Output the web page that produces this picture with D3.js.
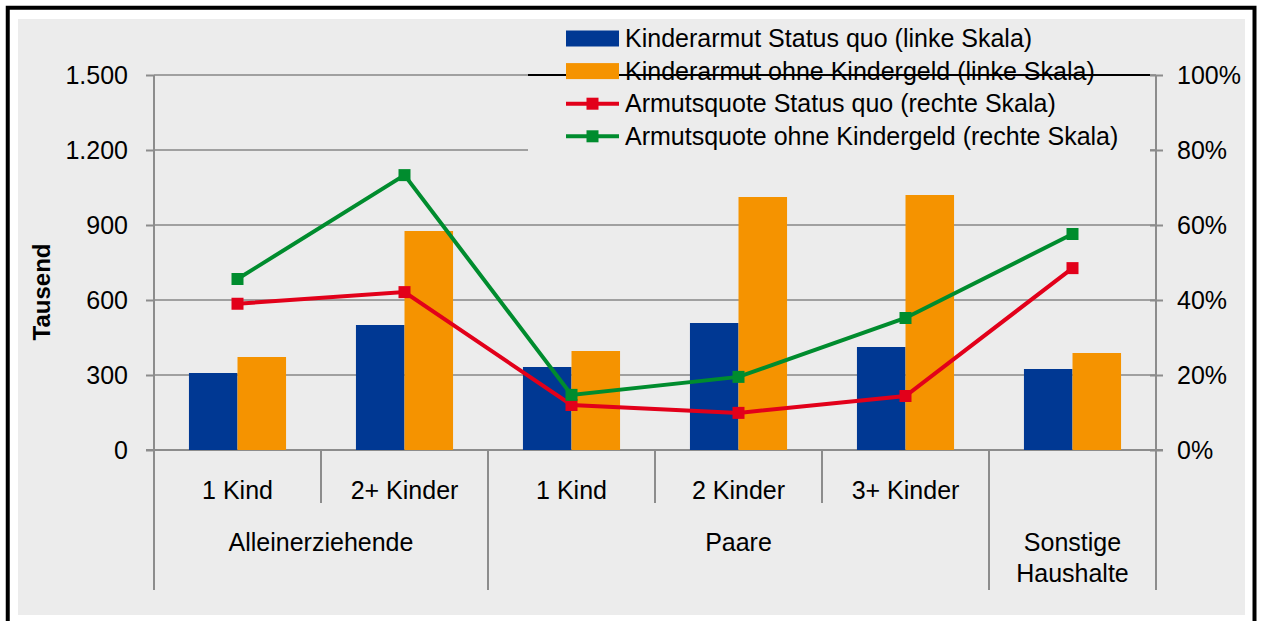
<!DOCTYPE html>
<meta charset="utf-8">
<style>
  body { margin: 0; background: #fff; }
  text { font-family: "Liberation Sans", Arial, sans-serif; fill: #000; }
  .axis path { display: none; }
  .axis line { stroke: #8c8c8c; stroke-width: 2; }
  .axis text { font-size: 25px; }
</style>
<body>
<script src="https://d3js.org/d3.v7.min.js"></script>
<script>
// data
var subLabels = ["1 Kind", "2+ Kinder", "1 Kind", "2 Kinder", "3+ Kinder", ""];
var groupNames = [["Alleinerziehende"], ["Paare"], ["Sonstige", "Haushalte"]];
var groupSizes = [2, 3, 1];
var statusQuo = [308, 500, 332, 508, 412, 324];      // Tausend
var ohneKindergeld = [372, 876, 396, 1012, 1020, 388]; // Tausend
var quoteStatusQuo = [0.39, 0.421, 0.12, 0.099, 0.144, 0.485];
var quoteOhne = [0.456, 0.733, 0.147, 0.195, 0.352, 0.576];
var leftTicks = [0, 300, 600, 900, 1200, 1500];
var rightTicks = [0, 0.2, 0.4, 0.6, 0.8, 1];

var width = 1262, height = 621;
var plot = {left: 154, right: 1156, top: 75, bottom: 450};
var fs = 25;

var colors = {blue: "#003893", orange: "#f59300", red: "#e2001a", green: "#008c2e"};

var de = d3.formatLocale({decimal: ",", thousands: ".", grouping: [3], currency: ["", " €"]});

var svg = d3.select("body").append("svg")
    .attr("width", width)
    .attr("height", height);

// frame + background
svg.append("rect")
    .attr("x", 18).attr("y", 19)
    .attr("width", 1227).attr("height", 596)
    .attr("fill", "#ececec");
svg.append("rect")
    .attr("x", 7.75).attr("y", 7.75)
    .attr("width", 1246.75).attr("height", 630)
    .attr("fill", "none")
    .attr("stroke", "#000")
    .attr("stroke-width", 4);

var idx = d3.range(subLabels.length);
var x0 = d3.scaleBand().domain(idx).range([plot.left, plot.right]).padding(0);
var x1 = d3.scaleBand().domain(["sq", "ohne"]).range([0, x0.bandwidth()]).paddingInner(0).paddingOuter(0.72);
var y = d3.scaleLinear().domain([0, 1500]).range([plot.bottom, plot.top]);
var y2 = d3.scaleLinear().domain([0, 1]).range([plot.bottom, plot.top]);

// gridlines
svg.append("g").selectAll("line")
    .data(leftTicks.filter(function(d) { return d > 0; }))
  .enter().append("line")
    .attr("x1", plot.left).attr("x2", plot.right)
    .attr("y1", function(d) { return y(d); })
    .attr("y2", function(d) { return y(d); })
    .attr("stroke", "#a0a0a0")
    .attr("stroke-width", 2);

// left axis
var gl = svg.append("g")
    .attr("class", "axis")
    .attr("transform", "translate(" + plot.left + ",0)")
    .call(d3.axisLeft(y).tickValues(leftTicks).tickSize(8).tickPadding(18).tickFormat(de.format(",")));
svg.append("line")
    .attr("x1", plot.left).attr("x2", plot.left)
    .attr("y1", plot.top).attr("y2", plot.bottom)
    .attr("stroke", "#8c8c8c").attr("stroke-width", 2);

// right axis
var gr = svg.append("g")
    .attr("class", "axis")
    .attr("transform", "translate(" + plot.right + ",0)")
    .call(d3.axisRight(y2).tickValues(rightTicks).tickSize(7).tickPadding(14).tickFormat(d3.format(".0%")));
gr.selectAll(".tick line").attr("x1", -6);
svg.append("line")
    .attr("x1", plot.right).attr("x2", plot.right)
    .attr("y1", plot.top).attr("y2", plot.bottom)
    .attr("stroke", "#8c8c8c").attr("stroke-width", 2);

// y title
svg.append("text")
    .attr("transform", "translate(42,292) rotate(-90)")
    .attr("text-anchor", "middle")
    .attr("dy", "0.35em")
    .attr("font-size", 24)
    .attr("font-weight", "bold")
    .text("Tausend");

// bottom category axis
svg.append("line")
    .attr("x1", plot.left - 8).attr("x2", plot.right + 7)
    .attr("y1", plot.bottom).attr("y2", plot.bottom)
    .attr("stroke", "#8c8c8c").attr("stroke-width", 2);

var sep = svg.append("g");
var start = 0;
var groupEdges = [0];
groupSizes.forEach(function(n) { start += n; groupEdges.push(start); });
idx.concat([subLabels.length]).forEach(function(i) {
  var xPos = i < subLabels.length ? x0(i) : plot.right;
  var isGroup = groupEdges.indexOf(i) >= 0;
  sep.append("line")
      .attr("x1", xPos).attr("x2", xPos)
      .attr("y1", plot.bottom).attr("y2", isGroup ? 590 : 503)
      .attr("stroke", "#8c8c8c").attr("stroke-width", 2);
});

svg.append("g").selectAll("text")
    .data(idx)
  .enter().append("text")
    .attr("x", function(i) { return x0(i) + x0.bandwidth() / 2; })
    .attr("y", 490)
    .attr("dy", "0.35em")
    .attr("text-anchor", "middle")
    .attr("font-size", fs)
    .text(function(i) { return subLabels[i]; });

groupNames.forEach(function(lines, g) {
  var a = x0(groupEdges[g]);
  var b = groupEdges[g + 1] < subLabels.length ? x0(groupEdges[g + 1]) : plot.right;
  lines.forEach(function(t, k) {
    svg.append("text")
        .attr("x", (a + b) / 2)
        .attr("y", 542 + k * 31)
        .attr("dy", "0.35em")
        .attr("text-anchor", "middle")
        .attr("font-size", fs)
        .text(t);
  });
});

// legend background covers the gridlines
var legend = svg.append("g");
legend.append("rect")
    .attr("x", 528).attr("y", 20)
    .attr("width", 622).attr("height", 142)
    .attr("fill", "#ececec");
legend.append("line")
    .attr("x1", 528).attr("x2", 1150)
    .attr("y1", plot.top).attr("y2", plot.top)
    .attr("stroke", "#000").attr("stroke-width", 2);

// bars
var bars = svg.append("g");
bars.selectAll(".sq")
    .data(idx)
  .enter().append("rect")
    .attr("x", function(i) { return x0(i) + x1("sq"); })
    .attr("y", function(i) { return y(statusQuo[i]); })
    .attr("width", x1.bandwidth())
    .attr("height", function(i) { return plot.bottom - y(statusQuo[i]); })
    .attr("fill", colors.blue);
bars.selectAll(".ohne")
    .data(idx)
  .enter().append("rect")
    .attr("x", function(i) { return x0(i) + x1("ohne"); })
    .attr("y", function(i) { return y(ohneKindergeld[i]); })
    .attr("width", x1.bandwidth())
    .attr("height", function(i) { return plot.bottom - y(ohneKindergeld[i]); })
    .attr("fill", colors.orange);

// lines
function drawLine(values, color) {
  var line = d3.line()
      .x(function(i) { return x0(i) + x0.bandwidth() / 2; })
      .y(function(i) { return y2(values[i]); });
  svg.append("path")
      .datum(idx)
      .attr("d", line)
      .attr("fill", "none")
      .attr("stroke", color)
      .attr("stroke-width", 4);
  svg.append("g").selectAll("rect")
      .data(idx)
    .enter().append("rect")
      .attr("x", function(i) { return x0(i) + x0.bandwidth() / 2 - 6; })
      .attr("y", function(i) { return y2(values[i]) - 6; })
      .attr("width", 12).attr("height", 12)
      .attr("fill", color);
}
drawLine(quoteStatusQuo, colors.red);
drawLine(quoteOhne, colors.green);

// legend entries
var legendItems = [
  {label: "Kinderarmut Status quo (linke Skala)", color: colors.blue, type: "bar"},
  {label: "Kinderarmut ohne Kindergeld (linke Skala)", color: colors.orange, type: "bar"},
  {label: "Armutsquote Status quo (rechte Skala)", color: colors.red, type: "line"},
  {label: "Armutsquote ohne Kindergeld (rechte Skala)", color: colors.green, type: "line"}
];
legendItems.forEach(function(d, i) {
  var cy = 38.5 + i * 32.6;
  if (d.type === "bar") {
    legend.append("rect")
        .attr("x", 566).attr("y", cy - 8)
        .attr("width", 53).attr("height", 16)
        .attr("fill", d.color);
  } else {
    legend.append("line")
        .attr("x1", 566).attr("x2", 619)
        .attr("y1", cy).attr("y2", cy)
        .attr("stroke", d.color).attr("stroke-width", 4);
    legend.append("rect")
        .attr("x", 586.5).attr("y", cy - 6)
        .attr("width", 12).attr("height", 12)
        .attr("fill", d.color);
  }
  legend.append("text")
      .attr("x", 625).attr("y", cy)
      .attr("dy", "0.35em")
      .attr("font-size", fs)
      .text(d.label);
});
</script>
</body>
</html>
